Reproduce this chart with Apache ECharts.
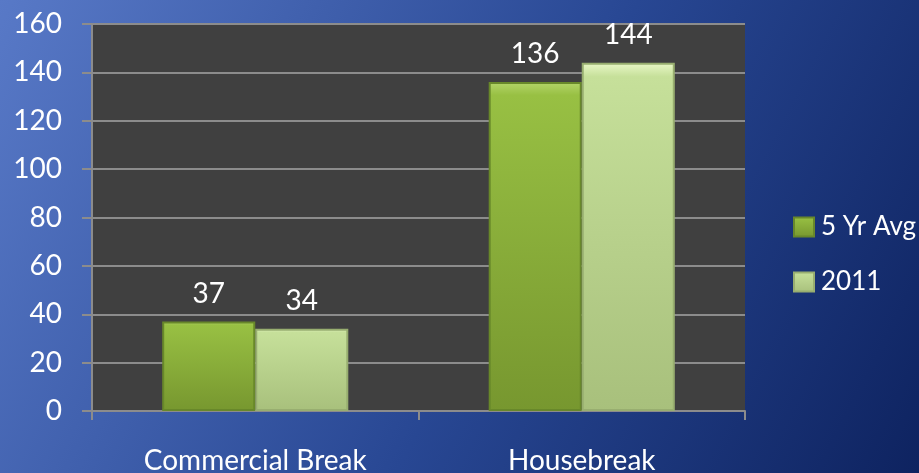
<!DOCTYPE html>
<html>
<head>
<meta charset="utf-8">
<script src="https://cdn.jsdelivr.net/npm/echarts@6/dist/echarts.min.js"></script>
<style>
  html, body { margin: 0; padding: 0; }
  #chart { width: 919px; height: 473px; }
</style>
</head>
<body>
<div id="chart"></div>
<script>
// data
var categories = ['Commercial Break', 'Housebreak'];
var seriesNames = ['5 Yr Avg', '2011'];
var avgValues = [37, 136];
var yearValues = [34, 144];
var yTicks = { min: 0, max: 160, interval: 20 };

var font = 'Lato, Open Sans, sans-serif';

function barFill(top, mid, bottom) {
    return new echarts.graphic.LinearGradient(0, 0, 0, 1, [
        { offset: 0, color: top },
        { offset: 0.04, color: mid },
        { offset: 1, color: bottom }
    ]);
}

var chart = echarts.init(document.getElementById('chart'));
var option = {
    backgroundColor: new echarts.graphic.LinearGradient(0, 0, 1, 1, [
        { offset: 0, color: '#5879c7' },
        { offset: 0.55, color: '#284793' },
        { offset: 1, color: '#0e2360' }
    ]),
    grid: {
        left: 92,
        right: 174,
        top: 24,
        bottom: 62,
        outerBoundsMode: 'none',
        containLabel: false,
        show: true,
        backgroundColor: '#404040',
        borderWidth: 0
    },
    legend: {
        orient: 'vertical',
        left: 788,
        top: 209,
        icon: 'rect',
        itemWidth: 20,
        itemHeight: 19,
        itemGap: 29,
        textStyle: { color: '#ffffff', fontSize: 26, fontFamily: font, padding: [0, 0, 0, 2] },
        data: seriesNames
    },
    xAxis: {
        type: 'category',
        data: categories,
        axisLine: { show: true, lineStyle: { color: '#8c8c8c', width: 2 } },
        axisTick: { show: true, length: 9, lineStyle: { color: '#8c8c8c', width: 2 } },
        axisLabel: { color: '#ffffff', fontSize: 28, fontFamily: font, margin: 36 }
    },
    yAxis: {
        type: 'value',
        min: yTicks.min,
        max: yTicks.max,
        interval: yTicks.interval,
        axisLine: { show: true, lineStyle: { color: '#8c8c8c', width: 2 } },
        axisTick: { show: true, length: 10, lineStyle: { color: '#8c8c8c', width: 2 } },
        splitLine: { show: true, lineStyle: { color: '#8c8c8c', width: 2 } },
        axisLabel: { color: '#ffffff', fontSize: 28, fontFamily: font, margin: 30 }
    },
    series: [
        {
            name: seriesNames[0],
            type: 'bar',
            data: avgValues,
            barGap: '0%',
            barCategoryGap: '43%',
            itemStyle: {
                color: barFill('#b4d46a', '#98c043', '#77972f'),
                borderColor: '#68882a',
                borderWidth: 2
            },
            label: {
                show: true,
                position: 'top',
                distance: 14,
                color: '#ffffff',
                fontSize: 28,
                fontFamily: font
            }
        },
        {
            name: seriesNames[1],
            type: 'bar',
            data: yearValues,
            itemStyle: {
                color: barFill('#eaf8c8', '#c6e09a', '#a8c07c'),
                borderColor: '#98ae70',
                borderWidth: 2
            },
            label: {
                show: true,
                position: 'top',
                distance: 14,
                color: '#ffffff',
                fontSize: 28,
                fontFamily: font
            }
        }
    ]
};
chart.setOption(option);
</script>
</body>
</html>
